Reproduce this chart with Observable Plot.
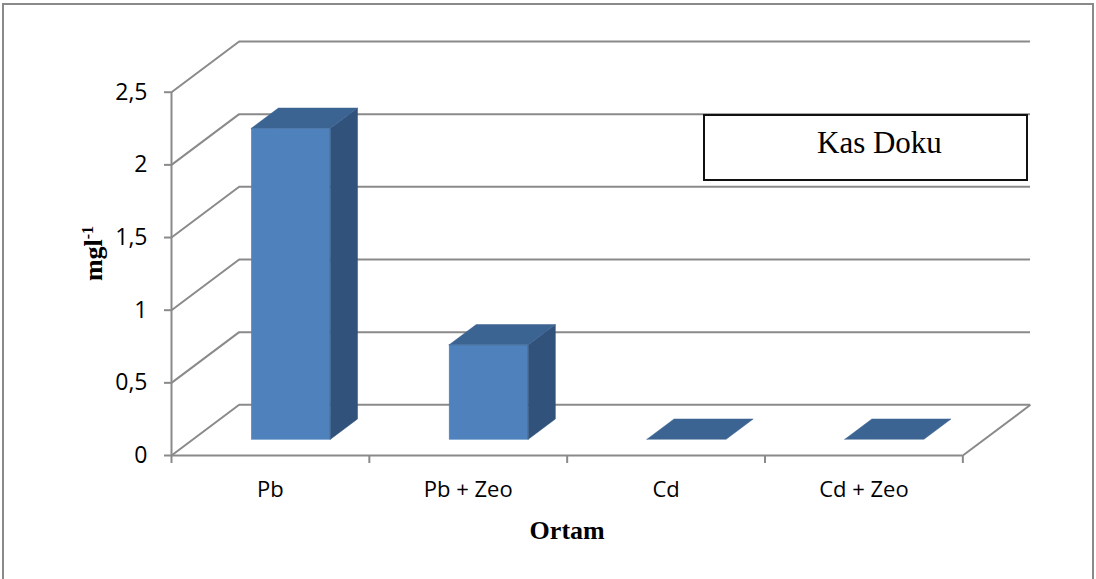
<!DOCTYPE html>
<html>
<head>
<meta charset="utf-8">
<script src="https://cdn.jsdelivr.net/npm/d3@7"></script>
<script src="https://cdn.jsdelivr.net/npm/@observablehq/plot@0.6"></script>
<style>
  html, body { margin: 0; padding: 0; background: #fff; overflow: hidden; }
  #wrap { position: relative; width: 1096px; height: 579px; }
  #frame {
    position: absolute; left: 2px; top: 3px; width: 1092px; height: 700px;
    box-sizing: border-box; border: 2px solid #8a8a8a; pointer-events: none;
  }
  #title {
    position: absolute; left: 703px; top: 114px; width: 325px; height: 67px;
    box-sizing: border-box; border: 2px solid #111; background: #fff;
  }
  #title span {
    position: absolute; left: 112px; top: 12px; line-height: 30px;
    font-family: "Liberation Serif", "Times New Roman", serif; font-size: 31px; color: #000;
    white-space: nowrap;
  }
</style>
</head>
<body>
<div id="wrap">
  <div id="chart"></div>
  <div id="title"><span>Kas Doku</span></div>
  <div id="frame"></div>
</div>
<script>
// Categories and measured concentrations (mg/l)
const categories = ["Pb", "Pb + Zeo", "Cd", "Cd + Zeo"];
const values = [2.14, 0.65, 0, 0];
const yTicks = [0, 0.5, 1, 1.5, 2, 2.5];
const yMax = 2.5;
const xLabel = "Ortam";
const yLabel = "mgl";
const yLabelSup = "-1";

// Oblique depth of the 3D box, in data units (category slots along x, value along y)
const DEPTH_X = 0.342;
const DEPTH_Y = 0.349;
// Bar footprint inside a category slot, and its extent along the depth (0 = front, 1 = back)
const BAR_X0 = 0.3, BAR_X1 = 0.7;
const BAR_Z0 = 0.31, BAR_Z1 = 0.71;

const GRID = "#8a8a8a";
const FRONT = "#4f81bd";
const TOP_COLOR = "#3c6492";
const SIDE_COLOR = "#31527b";

const n = categories.length;
const rows = categories.map((c, i) => ({c, i, v: values[i]}));
const k = v => () => v; // constant accessor

// Geometry helpers for the box-shaped bars
const zx0 = BAR_Z0 * DEPTH_X, zy0 = BAR_Z0 * DEPTH_Y;
const bdx = (BAR_Z1 - BAR_Z0) * DEPTH_X, bdy = (BAR_Z1 - BAR_Z0) * DEPTH_Y;
const barLeft = d => d.i + BAR_X0 + zx0;
const barRight = d => d.i + BAR_X1 + zx0;
const barTop = d => d.v + zy0;

// Top face of each bar as an area between two polylines
const topFaces = rows.flatMap(d => {
  const xa = barLeft(d), xb = barRight(d), t = barTop(d);
  return [
    {c: d.c, x: xa, y1: t, y2: t},
    {c: d.c, x: xa + bdx, y1: t, y2: t + bdy},
    {c: d.c, x: xb, y1: t, y2: t + bdy},
    {c: d.c, x: xb + bdx, y1: t + bdy, y2: t + bdy}
  ];
});
// Right side face of each bar
const sideFaces = rows.filter(d => d.v > 0).flatMap(d => {
  const xb = barRight(d), t = barTop(d);
  return [
    {c: d.c, x: xb, y1: zy0, y2: t},
    {c: d.c, x: xb + bdx, y1: zy0 + bdy, y2: t + bdy}
  ];
});

const comma = d => String(d).replace(".", ",");
const serif = '"Liberation Serif", "Times New Roman", serif';

const chart = Plot.plot({
  width: 1096,
  height: 579,
  marginLeft: 171,
  marginRight: 66,
  marginTop: 41,
  marginBottom: 124,
  style: {fontFamily: '"Open Sans", "Liberation Sans", sans-serif', fontSize: "22px", background: "transparent", color: "#000"},
  x: {domain: [0, n + DEPTH_X]},
  y: {domain: [0, yMax + DEPTH_Y]},
  marks: [
    // back wall gridlines
    Plot.ruleY(yTicks, {y: d => d + DEPTH_Y, x1: k(DEPTH_X), x2: k(n + DEPTH_X), stroke: GRID, strokeWidth: 2}),
    // side wall receding lines
    Plot.link(yTicks, {x1: k(0), y1: d => d, x2: k(DEPTH_X), y2: d => d + DEPTH_Y, stroke: GRID, strokeWidth: 2}),
    // floor right edge
    Plot.link([n], {x1: d => d, y1: k(0), x2: d => d + DEPTH_X, y2: k(DEPTH_Y), stroke: GRID, strokeWidth: 2}),
    // front axes lines
    Plot.ruleY([0], {x1: k(0), x2: k(n), stroke: GRID, strokeWidth: 2}),
    Plot.ruleX([0], {y1: k(0), y2: k(yMax), stroke: GRID, strokeWidth: 2}),
    Plot.axisY(yTicks, {tickSize: 7, tickPadding: 17, tickFormat: comma, stroke: GRID, strokeWidth: 2, fill: "#000", label: null}),
    Plot.axisX(d3.range(n + 1), {tickSize: 8, tickFormat: () => "", stroke: GRID, strokeWidth: 2, label: null}),
    Plot.axisX(rows.map(d => d.i + 0.5), {tickSize: 0, tickPadding: 26, tickFormat: d => categories[Math.floor(d)], fill: "#000", label: null}),
    // bars: front faces, side faces, top faces
    Plot.rect(rows.filter(d => d.v > 0), {x1: barLeft, x2: barRight, y1: k(zy0), y2: barTop, fill: FRONT, stroke: FRONT, strokeWidth: 0.5}),
    Plot.areaY(sideFaces, {x: "x", y1: "y1", y2: "y2", z: "c", fill: SIDE_COLOR, stroke: SIDE_COLOR, strokeWidth: 0.5}),
    Plot.areaY(topFaces, {x: "x", y1: "y1", y2: "y2", z: "c", fill: TOP_COLOR, stroke: TOP_COLOR, strokeWidth: 0.5}),
    // axis titles
    Plot.text([xLabel], {x: k(n / 2), y: k(0), dy: 75, text: d => d, fontFamily: serif, fontWeight: "bold", fontSize: 26, fill: "#000"}),
    Plot.text([yLabel], {frameAnchor: "left", y: k(1.2), dx: -78, rotate: -90, text: d => d, fontFamily: serif, fontWeight: "bold", fontSize: 26, fill: "#000"})
  ]
});

// tick label sizes
const yTickText = new Set(yTicks.map(comma));
const xTickText = new Set(categories);
d3.select(chart).selectAll("text").each(function () {
  const t = this.textContent;
  if (yTickText.has(t)) this.style.fontSize = "23px";
  else if (xTickText.has(t)) this.style.fontSize = "22px";
});

// superscript on the y-axis unit
d3.select(chart).selectAll("text").filter(function () { return this.textContent === yLabel; })
  .append("tspan").attr("dy", "-9").attr("font-size", "16").text(yLabelSup);

document.getElementById("chart").appendChild(chart);
</script>
</body>
</html>
